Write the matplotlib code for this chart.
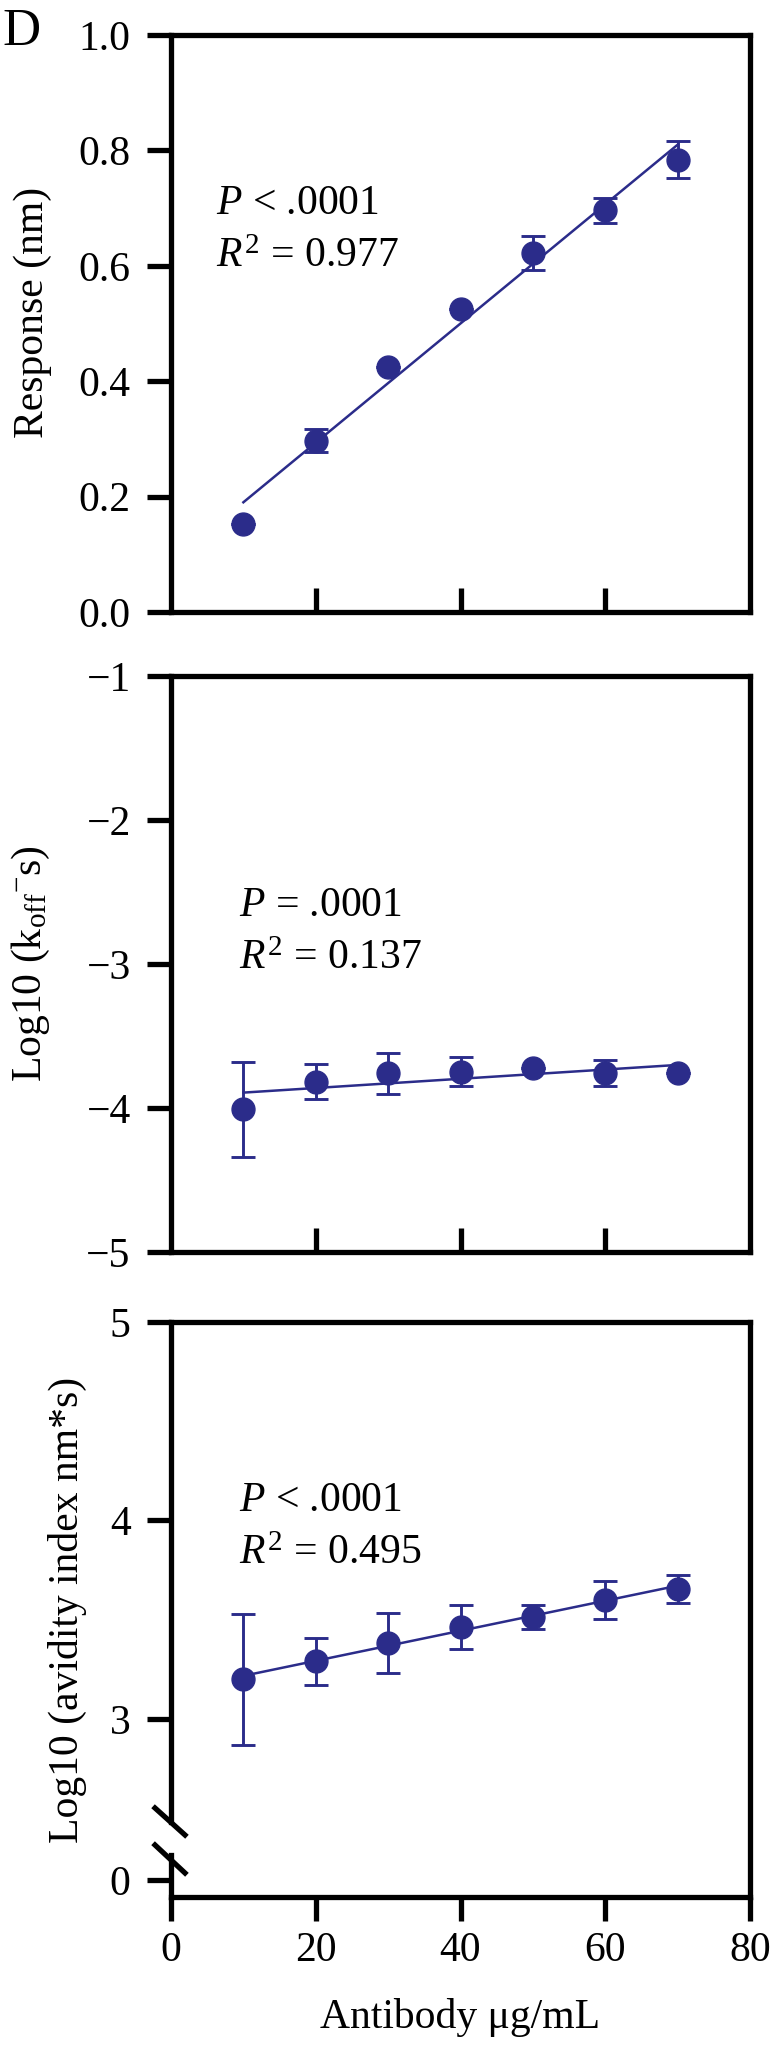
import numpy as np
import matplotlib
matplotlib.use("Agg")
import matplotlib.pyplot as plt
from matplotlib.lines import Line2D
from matplotlib.ticker import FormatStrFormatter

# === Fonts ===
plt.rcParams['font.family'] = ['Liberation Serif', 'DejaVu Serif']
plt.rcParams['mathtext.fontset'] = 'custom'
plt.rcParams['mathtext.rm'] = 'Liberation Serif'
plt.rcParams['mathtext.it'] = 'Liberation Serif:italic'

# === Data ===
conc = [10, 20, 30, 40, 50, 60, 70]

response = [0.152, 0.297, 0.424, 0.525, 0.622, 0.696, 0.784]
response_err = [0.0, 0.02, 0.0, 0.0, 0.03, 0.022, 0.032]

koff = [-4.01, -3.816, -3.76, -3.748, -3.725, -3.76, -3.76]
koff_err = [0.33, 0.12, 0.145, 0.10, 0.0, 0.09, 0.0]

avidity = [3.20, 3.29, 3.384, 3.465, 3.515, 3.60, 3.656]
avidity_err = [0.33, 0.12, 0.15, 0.11, 0.06, 0.095, 0.07]

stats_text = [
    ("$P$ < .0001", "$R^{\\mathrm{2}}$ = 0.977"),
    ("$P$ = .0001", "$R^{\\mathrm{2}}$ = 0.137"),
    ("$P$ < .0001", "$R^{\\mathrm{2}}$ = 0.495"),
]

# === Style ===
BLUE = "#2B2C8A"
SPINE_W = 3.8
TICK_LEN = 17
FS = 30
LABEL_FS = 30

W, H = 770, 2051
fig = plt.figure(figsize=(W / 100, H / 100), dpi=100)


def rect(top, bottom, left=171, right=750):
    return [left / W, (H - bottom) / H, (right - left) / W, (bottom - top) / H]


def style_axes(ax):
    for sp in ax.spines.values():
        sp.set_linewidth(SPINE_W)
        sp.set_color("black")
    ax.tick_params(axis="y", direction="out", length=TICK_LEN, width=SPINE_W,
                   labelsize=FS, pad=12)
    ax.tick_params(axis="x", direction="in", length=TICK_LEN, width=SPINE_W,
                   labelbottom=False)
    ax.set_xlim(0, 80)
    ax.set_xticks([20, 40, 60])


def plot_series(ax, y, err):
    x = np.array(conc)
    y = np.array(y)
    coef = np.polyfit(x, y, 1)
    ax.plot(x[[0, -1]], np.polyval(coef, x[[0, -1]]), color=BLUE, lw=1.8, zorder=2)
    ax.errorbar(x, y, yerr=err, fmt="none", ecolor=BLUE, elinewidth=2.1,
                capsize=8.3, capthick=2.1, zorder=3)
    ax.plot(x, y, "o", color=BLUE, ms=16.5, mec=BLUE, zorder=4, clip_on=False)


# --- Panel 1: Response ---
ax1 = fig.add_axes(rect(35, 612))
style_axes(ax1)
plot_series(ax1, response, response_err)
ax1.set_ylim(0, 1.0)
ax1.set_yticks([0.0, 0.2, 0.4, 0.6, 0.8, 1.0])
ax1.yaxis.set_major_formatter(FormatStrFormatter("%.1f"))
ax1.set_ylabel("Response (nm)", fontsize=LABEL_FS)
ax1.yaxis.set_label_coords(-0.206, 0.52)
ax1.text(0.078, 0.69, stats_text[0][0], transform=ax1.transAxes, fontsize=FS, va="baseline")
ax1.text(0.078, 0.598, stats_text[0][1], transform=ax1.transAxes, fontsize=FS, va="baseline")

# --- Panel 2: koff ---
ax2 = fig.add_axes(rect(676, 1252))
style_axes(ax2)
plot_series(ax2, koff, koff_err)
ax2.set_ylim(-5, -1)
ax2.set_yticks([-5, -4, -3, -2, -1])
ax2.set_ylabel("Log10 (k$_{\\mathregular{off}}$$^{\\mathregular{-}}$s)", fontsize=LABEL_FS)
ax2.yaxis.set_label_coords(-0.205, 0.5)
ax2.text(0.118, 0.584, stats_text[1][0], transform=ax2.transAxes, fontsize=FS, va="baseline")
ax2.text(0.118, 0.492, stats_text[1][1], transform=ax2.transAxes, fontsize=FS, va="baseline")

# --- Panel 3: avidity, broken y axis ---
ax3 = fig.add_axes(rect(1322, 1897))
style_axes(ax3)
plot_series(ax3, avidity, avidity_err)
ax3.set_ylim(2.103, 5)
ax3.set_yticks([3, 4, 5])
ax3.spines["bottom"].set_visible(False)
ax3.spines["left"].set_bounds(2.48, 5)
ax3.tick_params(axis="x", length=0)
ax3.set_ylabel("Log10 (avidity index nm*s)", fontsize=LABEL_FS)
ax3.yaxis.set_label_coords(-0.145, 0.5)
ax3.text(0.118, 0.672, stats_text[2][0], transform=ax3.transAxes, fontsize=FS, va="baseline")
ax3.text(0.118, 0.579, stats_text[2][1], transform=ax3.transAxes, fontsize=FS, va="baseline")

ax3b = fig.add_axes(rect(1855, 1897))
ax3b.patch.set_alpha(0)
for sp in ax3b.spines.values():
    sp.set_linewidth(SPINE_W)
ax3b.spines["top"].set_visible(False)
ax3b.spines["right"].set_visible(False)
ax3b.set_xlim(0, 80)
ax3b.set_xticks([0, 20, 40, 60, 80])
ax3b.set_ylim(-0.086, 0.126)
ax3b.set_yticks([0])
ax3b.tick_params(axis="both", direction="out", length=TICK_LEN, width=SPINE_W,
                 labelsize=FS, pad=12)
ax3b.tick_params(axis="x", pad=8)
ax3b.set_xlabel("Antibody μg/mL", fontsize=LABEL_FS)
ax3b.xaxis.set_label_coords(0.5, -(1998 - 1897) / 42)

# axis break marks
for y0, y1 in [(1808, 1835), (1845, 1873)]:
    fig.add_artist(Line2D([155 / W, 185 / W], [(H - y0) / H, (H - y1) / H],
                          transform=fig.transFigure, color="black", lw=SPINE_W))

fig.text(2 / W, (H - 45) / H, "D", fontsize=38, va="baseline", ha="left")

fig.savefig("out.png", dpi=100, facecolor="white")
